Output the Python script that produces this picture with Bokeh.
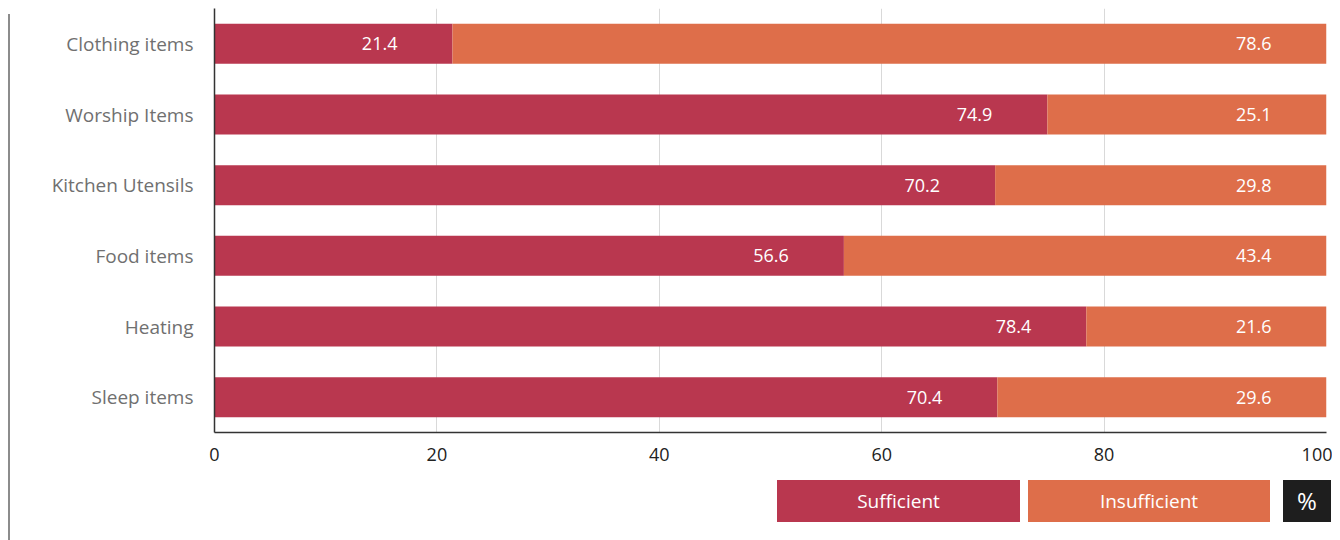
from bokeh.plotting import figure
from bokeh.models import ColumnDataSource, FactorRange, Range1d, Div, LabelSet, FixedTicker
from bokeh.layouts import row, column
from bokeh.core.properties import value
from bokeh.embed import file_html
from bokeh.resources import INLINE

categories = ["Clothing items", "Worship Items", "Kitchen Utensils", "Food items", "Heating", "Sleep items"]
sufficient = [21.4, 74.9, 70.2, 56.6, 78.4, 70.4]
insufficient = [78.6, 25.1, 29.8, 43.4, 21.6, 29.6]
series_names = ["Sufficient", "Insufficient"]
x_ticks = [0, 20, 40, 60, 80, 100]
unit_label = "%"

SUF_COLOR = "#B9374F"
INS_COLOR = "#DE6E4A"
FONT = "Open Sans"

src = ColumnDataSource(dict(
    cat=categories,
    suf=sufficient,
    total=[s + i for s, i in zip(sufficient, insufficient)],
    suf_lbl=[f"{v:.1f}" for v in sufficient],
    ins_lbl=[f"{v:.1f}" for v in insufficient],
))

p = figure(
    y_range=FactorRange(*reversed(categories), range_padding=0),
    x_range=Range1d(0, 100),
    width=1322, height=460,
    min_border_left=204, min_border_right=6, min_border_top=0, min_border_bottom=36,
    output_backend="svg", toolbar_location=None,
)
p.outline_line_color = None
p.background_fill_color = "white"

p.hbar(y="cat", left=0, right="suf", height=0.566, source=src, color=SUF_COLOR, line_color=None)
p.hbar(y="cat", left="suf", right="total", height=0.566, source=src, color=INS_COLOR, line_color=None)

for xcol, tcol in (("suf", "suf_lbl"), ("total", "ins_lbl")):
    p.add_layout(LabelSet(x=xcol, y="cat", text=tcol, source=src, x_offset=-55,
                          text_align="right", text_baseline="middle",
                          text_color="white", text_font_size="18px",
                          text_font=value(FONT)))

p.xaxis.ticker = FixedTicker(ticks=x_ticks)
p.xgrid.ticker = FixedTicker(ticks=x_ticks)
p.xgrid.grid_line_color = "#d9d9d9"
p.ygrid.grid_line_color = None
p.xgrid.level = "underlay"

for ax in (p.xaxis, p.yaxis):
    ax.axis_line_color = "#333333"
    ax.axis_line_width = 1.5
    ax.major_tick_line_color = None
    ax.minor_tick_line_color = None
    ax.major_label_text_font = FONT

p.xaxis.major_label_text_font_size = "18px"
p.xaxis.major_label_text_color = "#222222"
p.xaxis.major_label_standoff = 9
p.yaxis.major_label_text_font_size = "19px"
p.yaxis.major_label_text_color = "#707070"
p.yaxis.major_label_standoff = 15

box = "position:absolute;top:12px;height:42px;line-height:42px;text-align:center;color:#fff;"
legend_html = f"""
<div style="position:relative;width:1322px;height:72px;font-family:'{FONT}';">
  <div style="{box}left:767px;width:243px;background:{SUF_COLOR};font-size:19px;">{series_names[0]}</div>
  <div style="{box}left:1018px;width:242px;background:{INS_COLOR};font-size:19px;">{series_names[1]}</div>
  <div style="{box}left:1273px;width:48px;background:#1e1e1e;font-size:24px;">{unit_label}</div>
</div>
"""
legend = Div(text=legend_html, width=1322, height=72, margin=(0, 0, 0, 0))
line = Div(text="", width=2, height=526, margin=(6, 0, 0, 0),
           styles={"background-color": "#8c8c8c"})

layout = row(line, column(p, legend, spacing=0), spacing=0, margin=(8, 0, 0, 8))
open("out.html", "w").write(file_html(layout, INLINE))
